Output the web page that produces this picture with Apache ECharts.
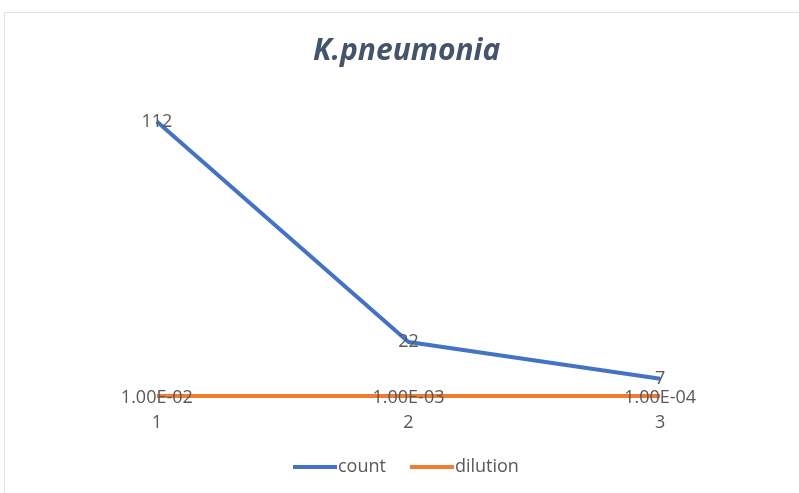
<!DOCTYPE html>
<html>
<head>
<meta charset="utf-8">
<script src="https://cdn.jsdelivr.net/npm/echarts@6/dist/echarts.min.js"></script>
<style>
  html, body { margin: 0; padding: 0; background: #fff; }
  #frame { position: absolute; left: 4px; top: 12px; width: 796px; height: 490px; border: 1px solid #dfe3e8; border-right: none; border-bottom: none; }
  #container { position: absolute; left: 0; top: 0; width: 799px; height: 493px; }
</style>
</head>
<body>
<div id="frame"></div>
<div id="container"></div>
<script>
const categories = ['1', '2', '3'];
const countValues = [112, 22, 7];
const dilutionValues = [0.01, 0.001, 0.0001];

function sci(v) {
  // Excel style 1.00E-02
  const parts = v.toExponential(2).toUpperCase().split('E');
  const exp = parts[1];
  const sign = exp[0] === '-' ? '-' : '+';
  let digits = exp.replace(/[+-]/, '');
  if (digits.length < 2) digits = '0' + digits;
  return parts[0] + 'E' + sign + digits;
}

const dom = document.getElementById('container');
const myChart = echarts.init(dom);
const textColor = '#595959';
const option = {
  animation: false,
  title: {
    text: 'K.pneumonia',
    left: 308,
    top: 31,
    textStyle: {
      fontFamily: 'Open Sans',
      fontSize: 30,
      fontWeight: 'bold',
      fontStyle: 'italic',
      color: '#44546A',
    },
  },
  legend: {
    data: ['count', 'dilution'],
    bottom: 12,
    left: 288,
    itemWidth: 44,
    itemHeight: 4,
    itemGap: 24,
    icon: 'rect',
    textStyle: { fontFamily: 'Open Sans', fontSize: 18, color: textColor, padding: [0, 0, 0, -4] },
  },
  grid: {
    left: 31,
    right: 13,
    top: 102,
    bottom: 97,
  },
  xAxis: {
    type: 'category',
    data: categories,
    boundaryGap: true,
    axisLine: { show: false },
    axisTick: { show: false },
    axisLabel: { margin: 18, fontFamily: 'Open Sans', fontSize: 18, color: textColor },
  },
  yAxis: {
    type: 'value',
    min: 0,
    max: 120,
    interval: 20,
    show: false,
    splitLine: { show: false },
  },
  series: [
    {
      name: 'count',
      type: 'line',
      data: countValues,
      symbol: 'circle',
      symbolSize: 0.1,
      lineStyle: { color: '#4472C4', width: 4 },
      itemStyle: { color: '#4472C4' },
      label: {
        show: true,
        position: 'inside',
        fontFamily: 'Open Sans',
        fontSize: 18,
        color: textColor,
      },
      z: 3,
    },
    {
      name: 'dilution',
      type: 'line',
      data: dilutionValues,
      symbol: 'circle',
      symbolSize: 0.1,
      lineStyle: { color: '#ED7D31', width: 4 },
      itemStyle: { color: '#ED7D31' },
      label: {
        show: true,
        position: 'inside',
        offset: [0, 2],
        fontFamily: 'Open Sans',
        fontSize: 18,
        color: textColor,
        formatter: (p) => sci(p.value),
      },
      z: 2,
    },
  ],
};

myChart.setOption(option, true);
</script>
</body>
</html>
